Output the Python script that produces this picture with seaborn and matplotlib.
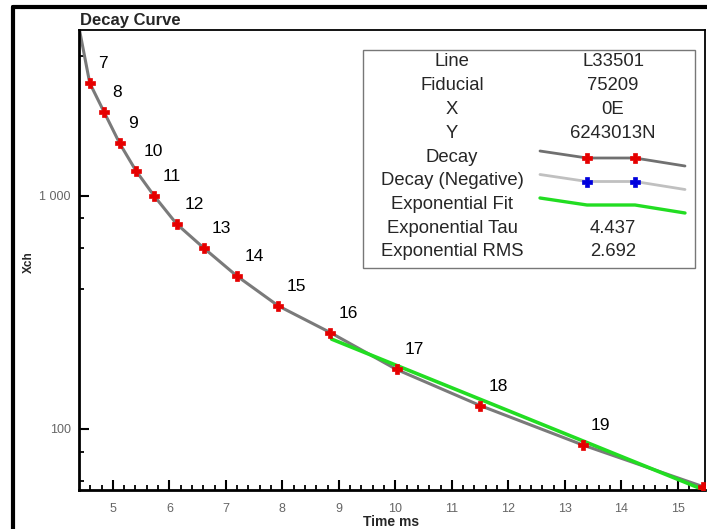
import seaborn as sns
import pandas as pd
import matplotlib.pyplot as plt
from matplotlib.lines import Line2D
from matplotlib.patches import Rectangle
from matplotlib.ticker import FixedLocator, NullFormatter

# decay gates
gate = [6, 7, 8, 9, 10, 11, 12, 13, 14, 15, 16, 17, 18, 19, 20]
time_ms = [4.38, 4.59, 4.84, 5.12, 5.41, 5.73, 6.13, 6.61, 7.19, 7.93, 8.85, 10.02, 11.50, 13.32, 15.45]
xch = [5600, 3050, 2300, 1680, 1280, 1000, 757, 597, 454, 337, 259, 180, 126, 85.3, 56.5]

# exponential fit, end points
fit_time = [8.87, 15.48]
fit_xch = [243, 54.5]

info_names = ["Line", "Fiducial", "X", "Y", "Decay", "Decay (Negative)",
              "Exponential Fit", "Exponential Tau", "Exponential RMS"]
info_values = ["L33501", "75209", "0E", "6243013N", "", "", "", "4.437", "2.692"]

y_major = [100, 1000]
y_major_labels = ["100", "1 000"]
y_minor = [60, 80, 400, 600, 800, 4000]
x_major = [5, 6, 7, 8, 9, 10, 11, 12, 13, 14, 15]

sns.set_style("white")
plt.rcParams['font.family'] = ['Liberation Sans', 'DejaVu Sans']

W, H = 707, 529
fig = plt.figure(figsize=(W / 100, H / 100), dpi=100)
ax = fig.add_axes([79 / W, 1 - 490 / H, (705 - 79) / W, (490 - 30) / H])

df = pd.DataFrame({"gate": gate, "time": time_ms, "xch": xch})
fit = pd.DataFrame({"time": fit_time, "xch": fit_xch})

sns.lineplot(x="time", y="xch", data=df, color="#7a7a7a", lw=2.2, ax=ax, zorder=2)
sns.lineplot(x="time", y="xch", data=fit, color="#22dd22", lw=2.6, ax=ax, zorder=3)
ax.plot(df["time"], df["xch"], ls="none", marker="P", ms=7, color="#e60000",
        mec="#e60000", mew=0.5, zorder=4)

for g, t, v in zip(gate, time_ms, xch):
    if 4.5 < t < 15:
        ax.annotate(str(g), (t, v), xytext=(8, 12), textcoords="offset pixels",
                    fontsize=12.5, ha="left", va="bottom", color="black")

ax.set_yscale("log")
ax.set_xlim(4.4, 15.48)
ax.set_ylim(54.7, 5150)
ax.yaxis.set_major_locator(FixedLocator(y_major))
ax.set_yticklabels(y_major_labels)
ax.yaxis.set_minor_locator(FixedLocator(y_minor))
ax.yaxis.set_minor_formatter(NullFormatter())
ax.set_xticks(x_major)
ax.xaxis.set_minor_locator(FixedLocator([4.4 + 0.2 * i for i in range(1, 56)]))
ax.tick_params(which="both", bottom=True, left=True, top=False, right=False)
ax.tick_params(which="major", direction="in", length=7.5, width=1.5, labelsize=9,
               labelcolor="#666666", color="black")
ax.tick_params(which="minor", direction="in", length=3.8, width=1.3, color="black")
ax.tick_params(axis="x", pad=9)
ax.tick_params(axis="y", pad=6)
ax.set_xlabel("")
ax.set_ylabel("")
for side in ["left", "bottom"]:
    ax.spines[side].set_linewidth(2)
    ax.spines[side].set_color("black")
for side in ["top", "right"]:
    ax.spines[side].set_linewidth(1.3)
    ax.spines[side].set_color("black")

def fx(px):
    return px / W

def fy(py):
    return 1 - py / H

# titles and axis labels
fig.text(fx(80), fy(25), "Decay Curve", fontsize=12, fontweight="bold", ha="left", va="baseline")
fig.text(fx(391), fy(522), "Time ms", fontsize=10, fontweight="bold", ha="center", va="center")
fig.text(fx(29), fy(262), "Xch", fontsize=8.5, fontweight="bold", rotation=90,
         ha="center", va="center")

# outer frame
fig.add_artist(Line2D([fx(13), fx(13)], [fy(7), fy(535)], color="black", lw=3))
fig.add_artist(Line2D([fx(13), fx(707)], [fy(7), fy(7)], color="black", lw=3))

# info box
fig.add_artist(Rectangle((fx(363), fy(268)), fx(695) - fx(363), fy(50) - fy(268),
                         transform=fig.transFigure, fill=False, ec="#777777", lw=1))
for i, (name, val) in enumerate(zip(info_names, info_values)):
    yy = 62 + i * 23.75
    fig.text(fx(452), fy(yy), name, fontsize=13.3, ha="center", va="center")
    if val:
        fig.text(fx(613), fy(yy), val, fontsize=13.3, ha="center", va="center")

shape_x = [540, 587, 635, 685]
shape_dy = [0, 7, 7, 15]
for row, (col, mcol, lcol) in enumerate([(True, "#e60000", "#707070"),
                                          (True, "#0000dd", "#c0c0c0"),
                                          (False, None, "#22dd22")]):
    base = 151 + row * 23.5
    xs = [fx(x) for x in shape_x]
    ys = [fy(base + d) for d in shape_dy]
    fig.add_artist(Line2D(xs, ys, color=lcol, lw=2.4 if not col else 2))
    if col:
        fig.add_artist(Line2D(xs[1:3], ys[1:3], ls="none", marker="P", ms=7,
                              color=mcol, mec=mcol, mew=0.5))

fig.savefig("out.png", dpi=100)
